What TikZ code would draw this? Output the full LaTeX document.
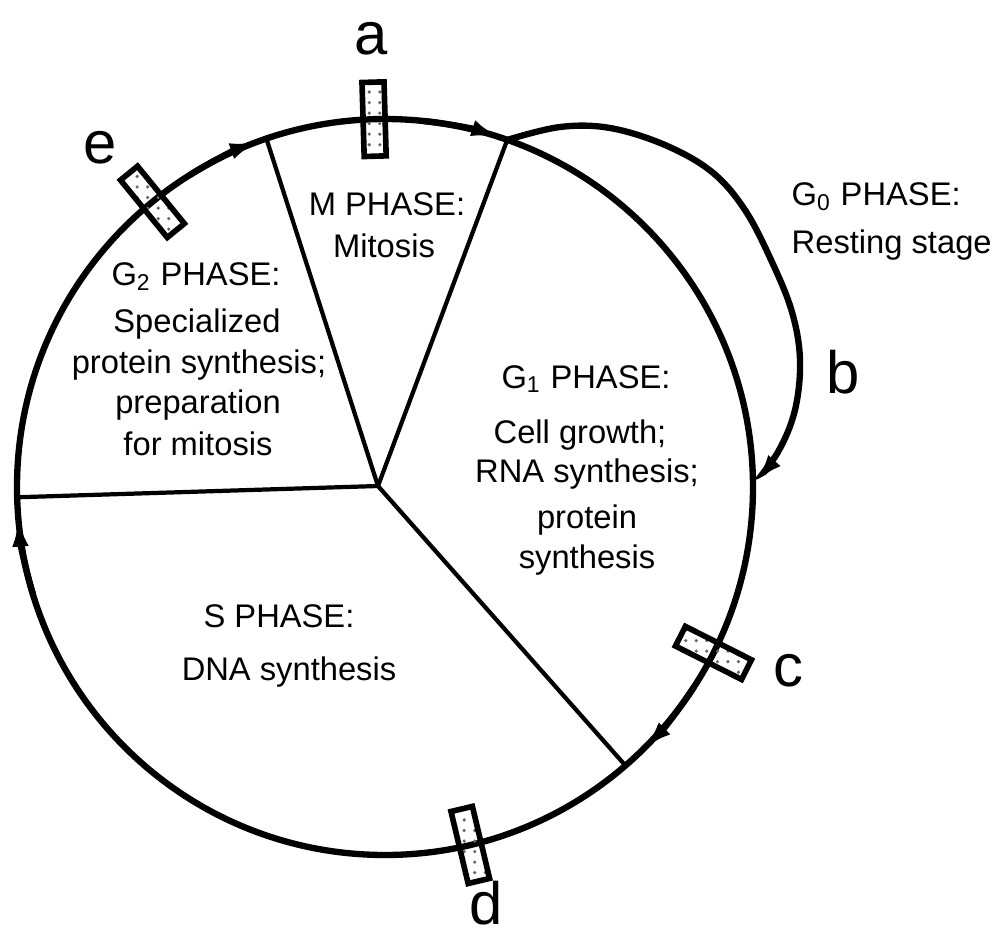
\documentclass[tikz,border=0pt]{standalone}
\usepackage{fontspec}
\setmainfont{Liberation Sans}
\usetikzlibrary{arrows.meta,patterns}

\begin{document}
\begin{tikzpicture}[x=0.01cm,y=0.01cm,>={Latex[length=3.2mm,width=1.6mm]},
  ring/.style={line width=1.8pt},
  spoke/.style={line width=1.2pt},
  marker/.style={draw,line width=1.6pt,fill=white,pattern=dots,pattern color=black!60,
    minimum width=0.74cm,minimum height=0.22cm,inner sep=0pt},
  phase/.style={font=\fontsize{9.3}{11}\selectfont,inner sep=0pt,anchor=base},
  letter/.style={font=\fontsize{17}{20}\selectfont,inner sep=0pt}]
%
% Zellzyklus: Kreis mit vier Phasen, Marker a--e
%
\useasboundingbox (0,0) rectangle (993,-936);
\coordinate (O) at (385,-487);
\coordinate (hub) at (378,-486);
% Phasengrenzen auf dem Kreis
\path (O) ++(181.6:368) coordinate (pSG)
      (O) ++(108.8:368) coordinate (pGM)
      (O) ++(70.6:368)  coordinate (pMG)
      (O) ++(-49.2:368) coordinate (pGS)
      (O) ++(0.4:368)   coordinate (pB);
% Kreis und Speichen
\draw[ring] (O) circle (368);
\draw[spoke] (hub) -- (pSG);
\draw[spoke] (hub) -- (pGM);
\draw[spoke] (hub) -- (pMG);
\draw[spoke] (hub) -- (pGS);
% Pfeile im Uhrzeigersinn
\draw[ring,->] ([shift={(O)}]84:368) arc (84:71.3:368);
\draw[ring,->] ([shift={(O)}]122:368) arc (122:109.6:368);
\draw[ring,->] ([shift={(O)}]197:368) arc (197:184.3:368);
\draw[ring,->] ([shift={(O)}]-33:368) arc (-33:-45.8:368);
% G0-Schleife
\draw[ring,->] plot[smooth,tension=0.6] coordinates {(pMG) (560,-127) (610,-128)
  (665,-145) (712,-172) (745,-210) (772,-262) (792,-312) (800,-360) (795,-410)
  (778,-452) (pB)};
% Marker
\node[marker,rotate=91.7]  (ma) at ([shift={(O)}]91.7:368) {};
\node[marker,rotate=129.2] (me) at ([shift={(O)}]129.2:368) {};
\node[marker,rotate=-26.8] (mc) at ([shift={(O)}]-26.8:368) {};
\node[marker,rotate=-76.6] (md) at ([shift={(O)}]-76.6:368) {};
% Buchstaben
\node[letter] (la) at (371,-39) {a};
\node[letter] (lb) at (843,-372) {b};
\node[letter] (lc) at (788,-671) {c};
\node[letter] (ld) at (486,-903) {d};
\node[letter] (le) at (100,-148) {e};
% M-Phase
\node[phase] (mhead) at (387,-215) {M PHASE:};
\node[phase] (mtext) at (384,-257) {Mitosis};
% G2-Phase
\node[phase] (gtwohead) at (196,-285) {G\textsubscript{2} PHASE:};
\node[phase] (gtwoa) at (197,-332) {Specialized};
\node[phase] (gtwob) at (199,-373) {protein synthesis;};
\node[phase] (gtwoc) at (198,-413) {preparation};
\node[phase] (gtwod) at (198,-455) {for mitosis};
% G1-Phase
\node[phase] (gonehead) at (586,-388) {G\textsubscript{1} PHASE:};
\node[phase] (gonea) at (580,-443) {Cell growth;};
\node[phase] (goneb) at (587,-482) {RNA synthesis;};
\node[phase] (gonec) at (587,-528) {protein};
\node[phase] (goned) at (587,-568) {synthesis};
% S-Phase
\node[phase] (shead) at (279,-627) {S PHASE:};
\node[phase] (stext) at (289,-680) {DNA synthesis};
% G0-Phase
\node[phase,anchor=base west] (gzerohead) at (791,-205) {G\textsubscript{0} PHASE:};
\node[phase,anchor=base west] (gzerotext) at (791,-253) {Resting stage};
\end{tikzpicture}
\end{document}
